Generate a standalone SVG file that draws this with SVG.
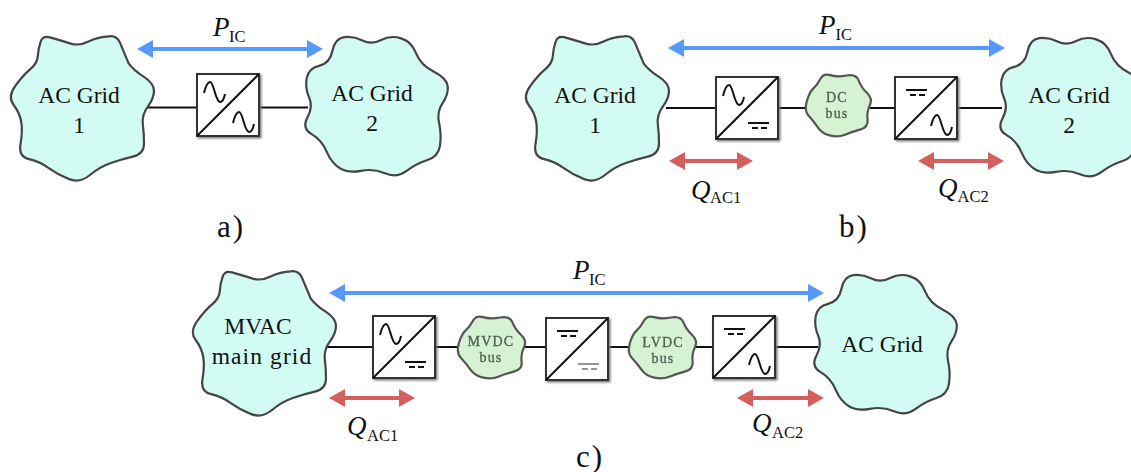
<svg xmlns="http://www.w3.org/2000/svg" xmlns:xlink="http://www.w3.org/1999/xlink" width="1131" height="472" viewBox="0 0 1131 472">
<style>
text{font-family:"Liberation Serif",serif;fill:#111}
.lbl{font-size:23.5px;text-anchor:middle}
.cap{font-size:31px;letter-spacing:2px}
.v{font-size:27px;font-style:italic}
.s{font-size:16.5px}
.bus{font-size:14px;letter-spacing:1.2px;text-anchor:middle;fill:#4f5f50;stroke:#4f5f50;stroke-width:.3;filter:url(#soft)}
.grid{fill:#d2fcf3;stroke:#444;stroke-width:2.2;vector-effect:non-scaling-stroke;filter:url(#soft)}
.bb{fill:#d5f2d2;stroke:#555;stroke-width:2.2;vector-effect:non-scaling-stroke;filter:url(#soft)}
.wire{stroke:#111;stroke-width:2;fill:none}
.pa{stroke:#5599fb;stroke-width:4;marker-start:url(#mb);marker-end:url(#mb)}
.qa{stroke:#d4605e;stroke-width:4;marker-start:url(#mr);marker-end:url(#mr)}
.box{fill:#fff;stroke:#333;stroke-width:2;filter:url(#sh)}
.sym{fill:none;stroke:#111;stroke-width:2}
.dim{opacity:.45}
</style>
<defs>
<filter id="soft" x="-5%" y="-5%" width="110%" height="110%"><feGaussianBlur stdDeviation="0.45"/></filter>
<filter id="sh" x="-10%" y="-10%" width="125%" height="125%"><feDropShadow dx="1.5" dy="1.5" stdDeviation="1" flood-color="#777"/></filter>
<marker id="mb" markerUnits="userSpaceOnUse" markerWidth="17" markerHeight="20" refX="0" refY="10" orient="auto-start-reverse" viewBox="0 0 17 20"><path d="M0 1 L16 10 L0 19Z" fill="#5599fb"/></marker>
<marker id="mr" markerUnits="userSpaceOnUse" markerWidth="17" markerHeight="20" refX="0" refY="10" orient="auto-start-reverse" viewBox="0 0 17 20"><path d="M0 1 L16 10 L0 19Z" fill="#d4605e"/></marker>
<path id="blobA" class="grid" d="M150 112Q185 122 215 131.5Q240 138 267.5 124Q295 110 326.5 109Q350 106 360 128Q368 148 386 190Q400 210 431 230Q462 250 462 272.5Q462 295 443.5 320Q425 345 428.5 372.5Q432 400 432 431Q432 462 398.5 470Q365 478 332.5 489Q300 500 270 525Q240 550 207.5 537.5Q175 525 147.5 505Q120 485 87.5 477.5Q55 470 61.5 432.5Q68 395 64 367.5Q60 340 41 315Q22 290 46 257.5Q70 225 91 207.5Q112 190 113.5 167.5Q115 145 122 125Q128 106 150 112Z"/>
<path id="blobB" class="grid" d="M957.5 197.5Q990 190 997.5 152.5Q1005 115 1032.5 111.5Q1060 108 1087.5 121.5Q1115 135 1143.5 120Q1172 105 1203.5 115Q1235 125 1248.5 160Q1262 195 1302 215Q1342 235 1343.5 260Q1345 285 1327.5 310Q1310 335 1317.5 370Q1325 405 1320 437.5Q1315 470 1282.5 480Q1250 490 1220 512.5Q1190 535 1155 520Q1120 505 1082.5 512.5Q1045 520 1020 505Q995 490 980 455Q965 420 935 402.5Q905 385 922.5 352.5Q940 320 927.5 292.5Q915 265 920 235Q925 205 957.5 197.5Z"/>
<path id="blobC" class="bb" d="M909 201.5Q930 208 960 202.5Q990 197 997.5 217.5Q1005 238 1023.5 255Q1042 272 1032 292Q1022 312 1025 335Q1028 358 1001.5 365Q975 372 955 380Q935 388 910 383Q885 378 871.5 359Q858 340 843 324Q828 308 836.5 280Q845 252 856.5 242Q868 232 878 213.5Q888 195 909 201.5Z"/>
<g id="conv"><rect class="box" x="0" y="0" width="62" height="62"/><path class="sym" d="M0 62L62 0"/></g>
<path id="ac" class="sym" d="M7 19C9 11 11 8 13 8C17 8 18 27 23 28C25 28 27 25 28 20"/>
<path id="dc" class="sym" d="M32 46H53M36 51H42M45 51H51"/>
</defs>
<g id="connectors">
<path class="wire" d="M148 107.5H197M259 107.5H308"/>
<path class="wire" d="M666 108H716M778 108H806M870 108H895M957 108H1002"/>
<path class="wire" d="M326 347H373M436 347H458M525 347H546M608 347H628M695 347H713M776 347H818"/>
<line class="pa" x1="153" y1="49" x2="307" y2="49"/>
<line class="pa" x1="684" y1="48" x2="989" y2="48"/>
<line class="pa" x1="345" y1="293" x2="808" y2="293"/>
<line class="qa" x1="685" y1="161" x2="737" y2="161"/>
<line class="qa" x1="934" y1="161" x2="988" y2="161"/>
<line class="qa" x1="345" y1="398" x2="399" y2="398"/>
<line class="qa" x1="753" y1="398" x2="808" y2="398"/>
</g>
<g id="a-grid1"><use href="#blobA" transform="scale(.3333)"/><text class="lbl" x="79" y="103">AC Grid</text><text class="lbl" x="79" y="133">1</text></g>
<g id="a-grid2"><use href="#blobB" transform="scale(.3333)"/><text class="lbl" x="372" y="101">AC Grid</text><text class="lbl" x="372" y="131">2</text></g>
<g id="a-conv" transform="translate(197,74)"><use href="#conv"/><use href="#ac"/><use href="#ac" transform="translate(29,30)"/></g>
<g id="b-grid1"><use href="#blobA" transform="translate(515,0) scale(.3333)"/><text class="lbl" x="595" y="103">AC Grid</text><text class="lbl" x="595" y="133">1</text></g>
<g id="b-conv1" transform="translate(716,77)"><use href="#conv"/><use href="#ac"/><use href="#dc"/></g>
<g id="b-bus"><use href="#blobC" transform="translate(537,8) scale(.3225,.3333)"/><text class="bus" x="837" y="102">DC</text><text class="bus" x="837" y="117.5">bus</text></g>
<g id="b-conv2" transform="translate(895,77)"><use href="#conv"/><use href="#dc" transform="translate(-21,-33)"/><use href="#ac" transform="translate(29,30)"/></g>
<g id="b-grid2"><use href="#blobB" transform="translate(695,1) scale(.3333)"/><text class="lbl" x="1069" y="103">AC Grid</text><text class="lbl" x="1069" y="133">2</text></g>
<g id="c-grid1"><use href="#blobA" transform="translate(182,235) scale(.3333)"/><text class="lbl" x="258" y="334">MVAC</text><text class="lbl" x="262" y="364" style="letter-spacing:1.1px">main grid</text></g>
<g id="c-conv1" transform="translate(373,316)"><use href="#conv"/><use href="#ac"/><use href="#dc"/></g>
<g id="c-bus1"><use href="#blobC" transform="translate(180,250) scale(.3333)"/><text class="bus" x="491" y="346">MVDC</text><text class="bus" x="491" y="361.5">bus</text></g>
<g id="c-conv2" transform="translate(546,318)"><use href="#conv"/><use href="#dc" transform="translate(-21,-33)"/><use href="#dc" class="dim"/></g>
<g id="c-bus2"><use href="#blobC" transform="translate(351,250) scale(.3333)"/><text class="bus" x="663" y="347">LVDC</text><text class="bus" x="663" y="362.5">bus</text></g>
<g id="c-conv3" transform="translate(713,316)"><use href="#conv"/><use href="#dc" transform="translate(-21,-33)"/><use href="#ac" transform="translate(29,30)"/></g>
<g id="c-grid2"><use href="#blobB" transform="translate(509,238) scale(.3333)"/><text class="lbl" x="882" y="352">AC Grid</text></g>
<g id="labels">
<text class="v" x="213" y="36">P</text><text class="s" x="229" y="42">IC</text>
<text class="v" x="819" y="34">P</text><text class="s" x="835.5" y="40">IC</text>
<text class="v" x="573" y="279">P</text><text class="s" x="589" y="285">IC</text>
<text class="v" x="691" y="199">Q</text><text class="s" x="710" y="203">AC1</text>
<text class="v" x="938" y="197">Q</text><text class="s" x="957.5" y="202">AC2</text>
<text class="v" x="347" y="435">Q</text><text class="s" x="367" y="441">AC1</text>
<text class="v" x="752" y="432">Q</text><text class="s" x="772" y="438">AC2</text>
<text class="cap" x="217" y="237">a)</text>
<text class="cap" x="839" y="237">b)</text>
<text class="cap" x="576" y="467">c)</text>
</g>
</svg>
